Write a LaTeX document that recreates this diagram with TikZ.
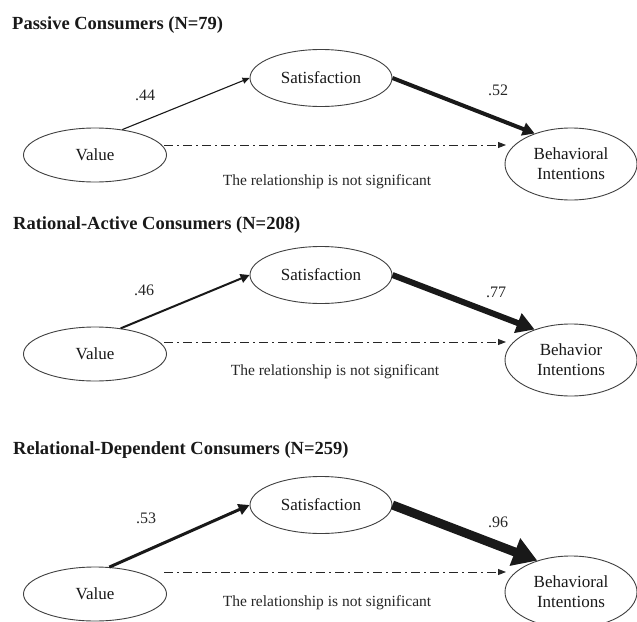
\documentclass[tikz,border=0pt]{standalone}
\usepackage{fontspec}
\setmainfont{Liberation Serif}
\usetikzlibrary{shapes.geometric,arrows.meta}
\begin{document}
\begin{tikzpicture}[x=1pt,y=-1pt,
  ell/.style={draw=black!75, line width=0.9pt, ellipse, inner sep=0pt, text=black!90, font=\fontsize{17}{20}\selectfont, align=center},
  satbox/.style={ell, minimum width=142pt, minimum height=57pt},
  valbox/.style={ell, minimum width=143pt, minimum height=54pt},
  bibox/.style={ell, minimum width=132pt, minimum height=72pt},
  ttl/.style={anchor=west, inner sep=0pt, text=black!90, font=\bfseries\fontsize{18.5}{20}\selectfont},
  coef/.style={inner sep=0pt, font=\fontsize{16}{18}\selectfont, text=black!85},
  note/.style={inner sep=0pt, font=\fontsize{15.5}{18}\selectfont, text=black!85},
  nsline/.style={line width=0.9pt, black!85, dash pattern=on 9pt off 4pt on 2pt off 4pt, -{Triangle[length=8pt,width=6pt]}},
  pathA/.style={black!90, line width=1.1pt, -{Triangle[length=7pt,width=6pt]}},
  pathB/.style={black!90, line width=4pt, -{Triangle[length=12pt,width=13pt]}},
  pathC/.style={black!90, line width=2pt, -{Triangle[length=9pt,width=9pt]}},
  pathD/.style={black!90, line width=6pt, -{Triangle[length=18pt,width=20pt]}},
  pathE/.style={black!90, line width=3pt, -{Triangle[length=11pt,width=11pt]}},
  pathF/.style={black!90, line width=9pt, -{Triangle[length=24pt,width=28pt]}},
]
\useasboundingbox[fill=white] (0,0) rectangle (637,621);

% ---------- Panel 1 ----------
\node[ttl] (t1) at (12,25) {Passive Consumers (N=79)};
\node[satbox] (s1) at (321,78) {Satisfaction};
\node[valbox] (v1) at (95,155) {Value};
\node[bibox] (b1) at (571,164) {Behavioral\\Intentions};
\node[coef] (c1a) at (145,95) {.44};
\node[coef] (c1b) at (498,90) {.52};
\node[note] (n1) at (327,182) {The relationship is not significant};
\coordinate (d1a) at (164,145);
\coordinate (d1b) at (506,145);
\draw[pathA] (v1.43) -- (s1.west);
\draw[pathB] (s1.east) -- (b1.140);
\draw[nsline] (d1a) -- (d1b);

% ---------- Panel 2 ----------
\node[ttl] (t2) at (13,225) {Rational-Active Consumers (N=208)};
\node[satbox] (s2) at (321,275) {Satisfaction};
\node[valbox] (v2) at (95,354) {Value};
\node[bibox] (b2) at (571,360) {Behavior\\Intentions};
\node[coef] (c2a) at (144,290) {.46};
\node[coef] (c2b) at (496,292) {.77};
\node[note] (n2) at (335,372) {The relationship is not significant};
\coordinate (d2a) at (164,342);
\coordinate (d2b) at (506,342);
\draw[pathC] (v2.45) -- (s2.west);
\draw[pathD] (s2.east) -- (b2.140);
\draw[nsline] (d2a) -- (d2b);

% ---------- Panel 3 ----------
\node[ttl] (t3) at (13,450) {Relational-Dependent Consumers (N=259)};
\node[satbox] (s3) at (321,505) {Satisfaction};
\node[valbox] (v3) at (95,594) {Value};
\node[bibox] (b3) at (571,592) {Behavioral\\Intentions};
\node[coef] (c3a) at (146,518) {.53};
\node[coef] (c3b) at (498,522) {.96};
\node[note] (n3) at (327,603) {The relationship is not significant};
\coordinate (d3a) at (164,572);
\coordinate (d3b) at (506,572);
\draw[pathE] (v3.62) -- (s3.west);
\draw[pathF] (s3.east) -- (b3.137);
\draw[nsline] (d3a) -- (d3b);
\end{tikzpicture}
\end{document}
